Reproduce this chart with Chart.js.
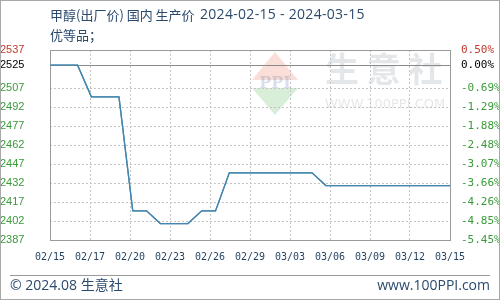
<!DOCTYPE html>
<html>
<head>
<meta charset="utf-8">
<script src="https://cdn.jsdelivr.net/npm/chart.js@4"></script>
<style>
  html, body { margin: 0; padding: 0; background: #fff; }
  #wrap { width: 500px; height: 300px; }
</style>
</head>
<body>
<div id="wrap"><canvas id="chart" width="500" height="300"></canvas></div>
<script>
// daily dates 02/15 .. 03/15
const dates = ['02/15','02/16','02/17','02/18','02/19','02/20','02/21','02/22','02/23','02/24',
               '02/25','02/26','02/27','02/28','02/29','03/01','03/02','03/03','03/04','03/05',
               '03/06','03/07','03/08','03/09','03/10','03/11','03/12','03/13','03/14','03/15'];
const prices = [2525, 2525, 2525, 2500, 2500, 2500, 2410, 2410, 2400, 2400,
                2400, 2410, 2410, 2440, 2440, 2440, 2440, 2440, 2440, 2440,
                2430, 2430, 2430, 2430, 2430, 2430, 2430, 2430, 2430, 2430];
const xTickLabels = ['02/15','02/17','02/20','02/23','02/26','02/29','03/03','03/06','03/09','03/12','03/15'];
const yTicks = [2387, 2402, 2417, 2432, 2447, 2462, 2477, 2492, 2507, 2525, 2537];
const pctLabels = ['-5.45%','-4.85%','-4.26%','-3.66%','-3.07%','-2.48%','-1.88%','-1.29%','-0.69%','0.00%','0.50%'];
const basePrice = 2525;

const titleName = '甲醇(出厂价) 国内 生产价';
const titleDates = '2024-02-15 - 2024-03-15';
const subTitle = '优等品；';

function tickColor(v) {
    if (v > basePrice) return '#c0392b';
    if (v === basePrice) return '#000';
    return '#3a9a3a';
}

const decor = {
    id: 'decor',
    beforeDraw(chart) {
        const c = chart.ctx;
        c.save();
        c.fillStyle = '#fff';
        c.fillRect(0, 0, 500, 300);
        // watermark
        c.globalAlpha = 0.2;
        c.beginPath();
        c.moveTo(275, 52); c.lineTo(298, 80); c.lineTo(252, 80); c.closePath();
        c.fillStyle = '#e8603c'; c.fill();
        c.beginPath();
        c.moveTo(252, 88); c.lineTo(298, 88); c.lineTo(275, 115); c.closePath();
        c.fillStyle = '#3caa3c'; c.fill();
        c.fillStyle = '#3a5a9a';
        c.font = 'bold 16px "DejaVu Serif"';
        c.textAlign = 'center'; c.textBaseline = 'middle';
        c.fillText('PPI', 275, 84);
        c.globalAlpha = 0.18;
        c.fillStyle = '#6a7a8a';
        c.font = 'bold 34px "Noto Sans CJK SC"';
        c.textAlign = 'left';
        c.fillText('生 意 社', 325, 69);
        c.font = '13px "DejaVu Sans"';
        c.fillText('WWW.100PPI.COM', 325, 105);
        c.restore();
    },
    afterDraw(chart) {
        const c = chart.ctx, a = chart.chartArea;
        const y = chart.scales.y;
        c.save();
        // base price line
        const by = Math.round(y.getPixelForValue(basePrice)) + 0.5;
        c.strokeStyle = '#8a8a8a';
        c.lineWidth = 1;
        c.beginPath(); c.moveTo(a.left, by); c.lineTo(a.right, by); c.stroke();
        // frame
        c.strokeStyle = '#9a9a9a';
        c.strokeRect(Math.round(a.left) + 0.5, Math.round(a.top) + 0.5,
                     Math.round(a.right - a.left), Math.round(a.bottom - a.top));
        // redraw series over base line
        chart.getDatasetMeta(0).controller.draw();
        // titles
        c.fillStyle = '#2b4a6b';
        c.textBaseline = 'middle';
        c.textAlign = 'left';
        c.font = '13px "Noto Sans CJK SC"';
        c.fillText(titleName, 50, 15);
        c.fillText(subTitle, 50, 35);
        c.font = '14px "Open Sans", "Noto Sans CJK SC"';
        c.letterSpacing = '0.3px';
        c.fillText(titleDates, 200, 15);
        c.letterSpacing = '0px';
        // footer
        c.strokeStyle = '#9a9a9a';
        c.beginPath(); c.moveTo(10, 275.5); c.lineTo(490, 275.5); c.stroke();
        c.font = '14px "Open Sans", "Noto Sans CJK SC"';
        c.fillText('© 2024.08 生意社', 10, 286);
        c.textAlign = 'right';
        c.fillText('www.100PPI.com', 490, 286);
        // outer border
        c.strokeStyle = '#a8a8a8';
        c.strokeRect(0.5, 0.5, 499, 299);
        c.restore();
    }
};

const data = {
    datasets: [{
        data: prices.map((p, i) => ({ x: i, y: p })),
        borderColor: '#4486b0',
        borderWidth: 1.3,
        pointRadius: 0,
        tension: 0,
        fill: false
    }]
};

const config = {
    type: 'line',
    data: data,
    options: {
        responsive: false,
        animation: false,
        layout: { padding: { top: 50, bottom: 24, left: 0, right: 0 } },
        plugins: { legend: { display: false }, tooltip: { enabled: false } },
        scales: {
            x: {
                type: 'linear',
                min: 0,
                max: dates.length - 1,
                afterBuildTicks: axis => {
                    const step = (dates.length - 1) / (xTickLabels.length - 1);
                    axis.ticks = xTickLabels.map((l, k) => ({ value: k * step }));
                },
                afterFit: axis => { axis.height = 36; },
                ticks: {
                    autoSkip: false,
                    maxRotation: 0,
                    padding: 11,
                    color: '#1f3f5f',
                    font: { family: '"DejaVu Sans Mono"', size: 10 },
                    callback: (v, i) => xTickLabels[i]
                },
                grid: { color: '#c4c4c4', drawTicks: false },
                border: { display: false, dash: [2, 2] }
            },
            y: {
                position: 'left',
                min: yTicks[0],
                max: yTicks[yTicks.length - 1],
                afterBuildTicks: axis => { axis.ticks = yTicks.map(v => ({ value: v })); },
                afterFit: axis => { axis.width = 50; },
                ticks: {
                    crossAlign: 'far',
                    padding: 4,
                    color: ctx => tickColor(ctx.tick.value),
                    font: { family: '"Liberation Sans"', size: 11 },
                    callback: v => String(v)
                },
                grid: { color: '#c4c4c4', drawTicks: false },
                border: { display: false, dash: [2, 2] }
            },
            y2: {
                position: 'right',
                min: yTicks[0],
                max: yTicks[yTicks.length - 1],
                afterBuildTicks: axis => { axis.ticks = yTicks.map(v => ({ value: v })); },
                afterFit: axis => { axis.width = 50; },
                ticks: {
                    padding: 3,
                    color: ctx => tickColor(ctx.tick.value),
                    font: { family: '"DejaVu Sans Mono"', size: 11 },
                    callback: (v, i) => pctLabels[i]
                },
                grid: { display: false },
                border: { display: false }
            }
        }
    },
    plugins: [decor]
};

new Chart(document.getElementById('chart'), config);
</script>
</body>
</html>
